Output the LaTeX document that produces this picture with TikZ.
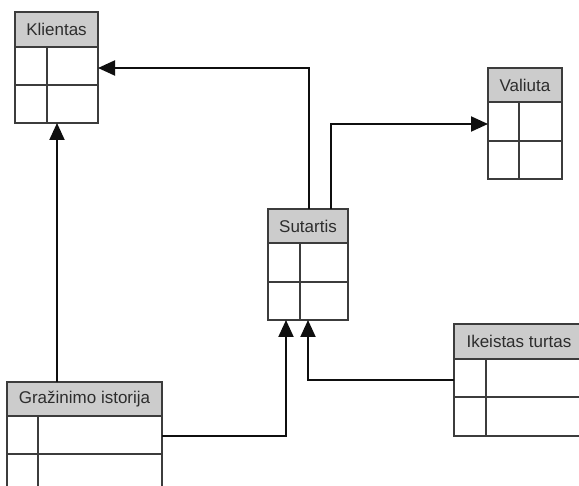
\documentclass[tikz,border=0pt]{standalone}
\usepackage{fontspec}
\setmainfont{Liberation Sans}
\usetikzlibrary{arrows.meta}
\definecolor{headfill}{RGB}{204,204,204}
\definecolor{rulec}{RGB}{60,60,60}
\definecolor{textc}{RGB}{45,45,45}
\definecolor{linkc}{RGB}{15,15,15}
\tikzset{
  tblhead/.style={draw=rulec, fill=headfill, line width=1.4pt, inner sep=0pt,
    outer sep=0pt, anchor=north west, text=textc,
    font=\fontsize{17}{20}\selectfont},
  tblbody/.style={draw=rulec, line width=1.4pt, inner sep=0pt, outer sep=0pt,
    anchor=north west},
  tblrule/.style={draw=rulec, line width=1.4pt},
  link/.style={draw=linkc, line width=2pt,
    -{Triangle[length=17pt,width=15pt]}}
}
% #1 name, #2 left, #3 top, #4 right, #5 header bottom,
% #6 row rule, #7 bottom, #8 column rule, #9 title
\newcommand\dbtable[9]{%
  \node[tblhead, minimum width={#4pt-#2pt}, minimum height={#5pt-#3pt}]
    (#1) at (#2,#3) {#9};
  \node[tblbody, minimum width={#4pt-#2pt}, minimum height={#7pt-#5pt}]
    (#1-b) at (#2,#5) {};
  \draw[tblrule] (#2,#6) -- (#4,#6);
  \draw[tblrule] (#8,#5) -- (#8,#7);
}
\begin{document}
\begin{tikzpicture}[x=1pt, y=-1pt]
  \useasboundingbox (0,0) rectangle (579,486);
  \fill[white] (0,0) rectangle (579,486);

  \dbtable{klientas}{15}{12}{98}{47}{85}{123}{47}{Klientas}
  \dbtable{valiuta}{488}{68}{562}{102}{141}{179}{519}{Valiuta}
  \dbtable{sutartis}{268}{209}{348}{243}{282}{320}{300}{Sutartis}
  \dbtable{ikeistas}{454}{324}{584}{359}{397}{436}{486}{Ikeistas turtas}
  \dbtable{grazinimo}{7}{382}{162}{416}{454}{494}{38}{Gražinimo istorija}

  % relations
  \draw[link] ([xshift=41pt]sutartis.north west)
    |- ([yshift=-21pt]klientas-b.north east);
  \draw[link] ([xshift=63pt]sutartis.north west)
    |- ([yshift=-22pt]valiuta-b.north west);
  \draw[link] ([xshift=50pt]grazinimo.north west)
    -- ([xshift=42pt]klientas-b.south west);
  \draw[link] ([yshift=-20pt]grazinimo-b.north east)
    -| ([xshift=18pt]sutartis-b.south west);
  \draw[link] ([yshift=-21pt]ikeistas-b.north west)
    -| ([xshift=40pt]sutartis-b.south west);
\end{tikzpicture}
\end{document}
